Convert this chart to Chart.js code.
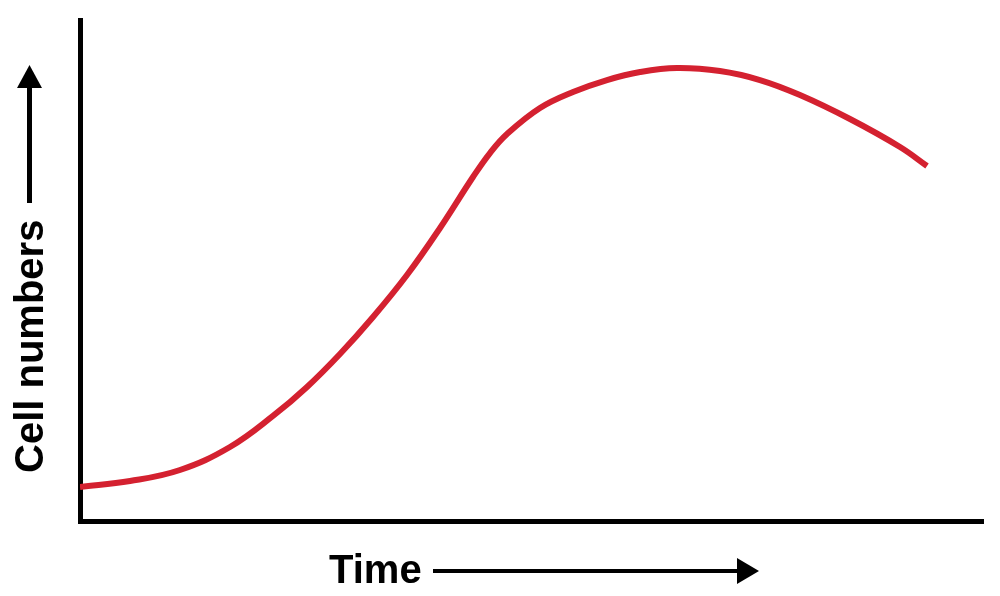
<!DOCTYPE html>
<html>
<head>
<meta charset="utf-8">
<script src="https://cdn.jsdelivr.net/npm/chart.js@4.4.1/dist/chart.umd.min.js"></script>
<style>
  html, body { margin: 0; padding: 0; background: #ffffff; }
  #wrap { width: 1000px; height: 596px; position: relative; }
</style>
</head>
<body>
<div id="wrap"><canvas id="c" width="1000" height="596"></canvas></div>
<script>
// Data (time in arbitrary units 0-100, cell numbers 0-100)
const time  = [0, 5.54, 11.07, 16.61, 21.37, 25.14, 28.79, 32.45, 36.21, 39.87, 43.52, 45.40, 47.29, 50.94, 54.60, 58.36, 62.02, 66.11, 70.87, 75.30, 79.73, 85.27, 90.81, 93.80];
const cells = [6.79, 7.98, 10.18, 14.77, 20.96, 26.75, 33.33, 40.72, 49.10, 58.48, 68.66, 73.45, 77.25, 82.44, 85.63, 88.02, 89.62, 90.42, 89.82, 88.02, 85.03, 80.24, 74.65, 70.86];
const xTitle = "Time";
const yTitle = "Cell numbers";

const points = time.map((t, i) => ({ x: t, y: cells[i] }));

const labelPlugin = {
  id: 'axisLabels',
  afterDraw(chart) {
    const ctx = chart.ctx;
    ctx.save();
    ctx.fillStyle = '#000';
    ctx.strokeStyle = '#000';
    ctx.font = 'bold 40px "Liberation Sans", Arial, sans-serif';
    // X title
    ctx.textAlign = 'left';
    ctx.textBaseline = 'alphabetic';
    ctx.fillText(xTitle, 329, 583);
    // X arrow
    ctx.lineWidth = 4;
    ctx.beginPath();
    ctx.moveTo(433, 571);
    ctx.lineTo(740, 571);
    ctx.stroke();
    ctx.beginPath();
    ctx.moveTo(759, 571);
    ctx.lineTo(737, 558);
    ctx.lineTo(737, 584);
    ctx.closePath();
    ctx.fill();
    // Y title
    ctx.save();
    ctx.translate(43, 473);
    ctx.rotate(-Math.PI / 2);
    ctx.textAlign = 'left';
    ctx.fillText(yTitle, 0, 0);
    ctx.restore();
    // Y arrow
    ctx.lineWidth = 5;
    ctx.beginPath();
    ctx.moveTo(29.5, 203);
    ctx.lineTo(29.5, 86);
    ctx.stroke();
    ctx.beginPath();
    ctx.moveTo(29.5, 65);
    ctx.lineTo(17, 88);
    ctx.lineTo(42, 88);
    ctx.closePath();
    ctx.fill();
    ctx.restore();
  }
};

new Chart(document.getElementById('c'), {
  type: 'line',
  data: {
    datasets: [{
      data: points,
      borderColor: 'rgb(212,33,48)',
      borderWidth: 6,
      pointRadius: 0,
      fill: false,
      tension: 0.4,
      borderCapStyle: 'butt'
    }]
  },
  options: {
    responsive: false,
    animation: false,
    devicePixelRatio: 1,
    layout: { padding: { left: 80, top: 20, right: 17, bottom: 75 } },
    plugins: { legend: { display: false }, tooltip: { enabled: false } },
    scales: {
      x: {
        type: 'linear', min: 0, max: 100,
        grid: { display: false, drawTicks: false },
        ticks: { display: false },
        border: { display: true, color: '#000', width: 5 }
      },
      y: {
        type: 'linear', min: 0, max: 100,
        grid: { display: false, drawTicks: false },
        ticks: { display: false },
        border: { display: true, color: '#000', width: 5 }
      }
    }
  },
  plugins: [labelPlugin]
});
</script>
</body>
</html>
